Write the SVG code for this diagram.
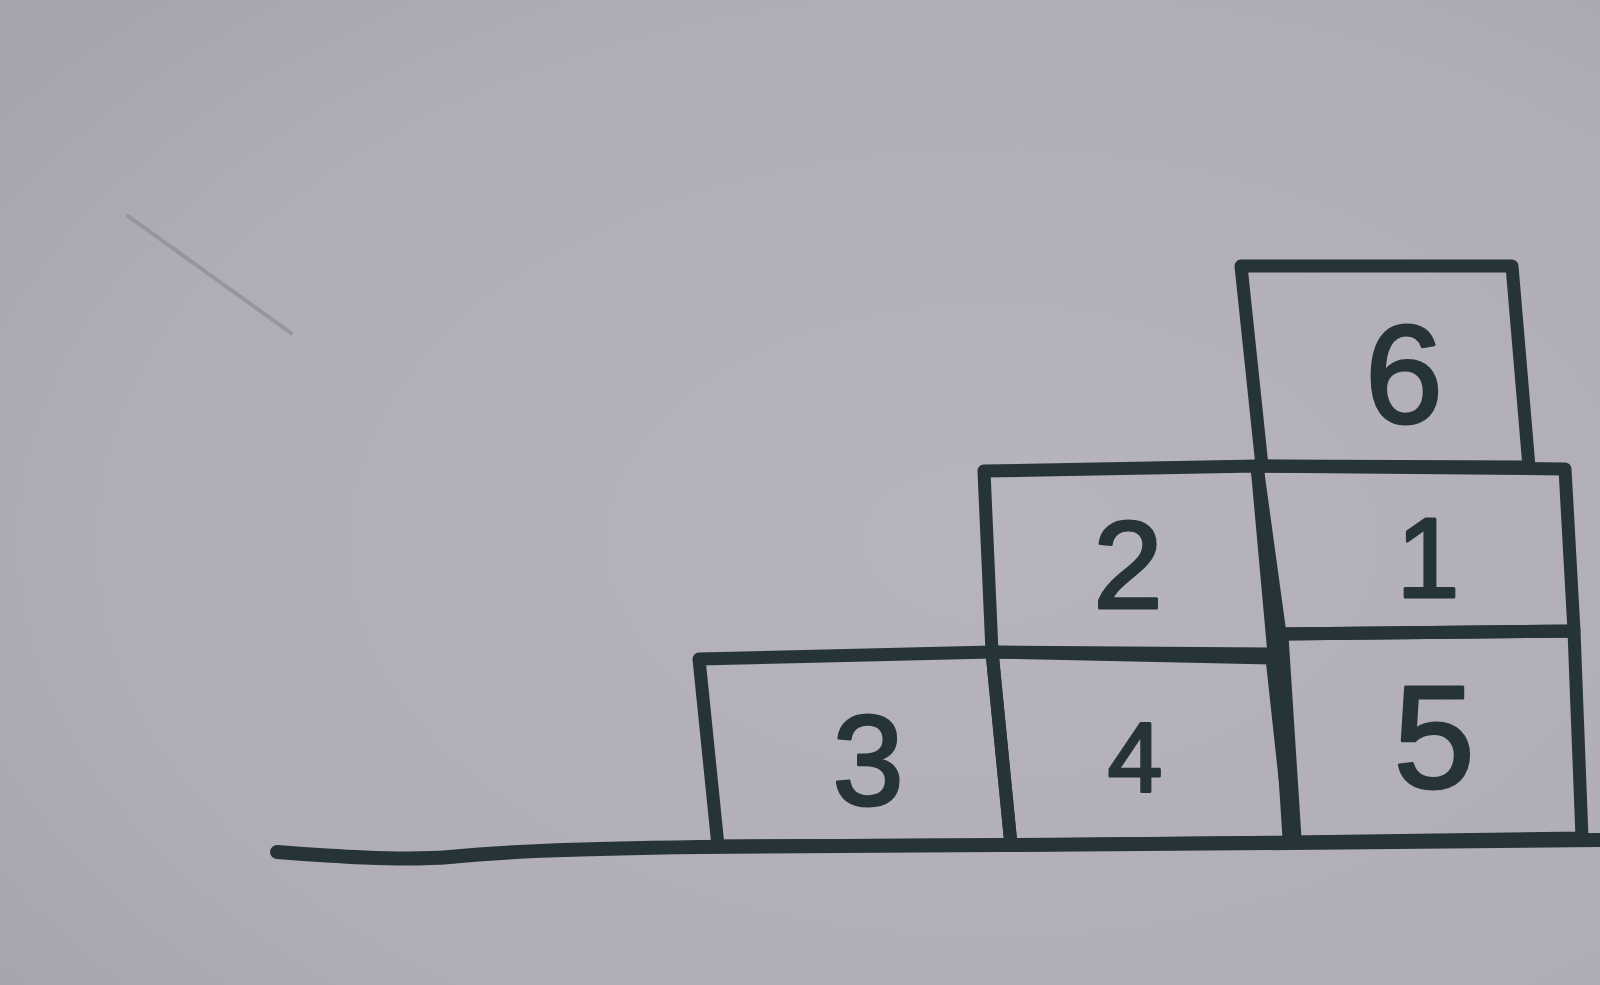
<svg xmlns="http://www.w3.org/2000/svg" width="1600" height="985" viewBox="0 0 1600 985">
  <defs>
    <radialGradient id="paper" cx="0.62" cy="0.55" r="0.8">
      <stop offset="0" stop-color="#b7b4bf"/>
      <stop offset="0.7" stop-color="#b0adb8"/>
      <stop offset="1" stop-color="#a6a3ac"/>
    </radialGradient>
    <style>
      .box { fill: none; stroke: #263437; stroke-width: 13; stroke-linejoin: round; stroke-linecap: round; }
      .thick { fill: none; stroke: #263437; stroke-width: 19; stroke-linecap: round; }
      .num { font-family: "Liberation Sans", "Arial", sans-serif; fill: #263437; stroke: #263437; stroke-width: 3; stroke-linejoin: round; text-anchor: middle; }
      .ground { fill: none; stroke: #263437; stroke-width: 14; stroke-linecap: round; stroke-linejoin: round; }
    </style>
  </defs>
  <rect x="0" y="0" width="1600" height="985" fill="url(#paper)"/>
  <path d="M128 216 L291 333" stroke="#85828b" stroke-width="4" fill="none" opacity="0.55" stroke-linecap="round"/>

  <g id="box-6">
    <path class="box" d="M1241 266 L1512 266 L1529 467 L1262 466 Z"/>
    <text class="num" x="1404" y="423" font-size="140">6</text>
  </g>
  <g id="box-2">
    <path class="box" d="M984 471 L1257 466 L1274 654 L992 652 Z"/>
    <text class="num" x="1128" y="608" font-size="125">2</text>
  </g>
  <g id="box-1">
    <path class="box" d="M1257 466 L1565 469 L1574 631 L1280 634 Z"/>
    <text class="num" x="1428" y="597" font-size="113">1</text>
  </g>
  <g id="box-3">
    <path class="box" d="M699 659 L992 652 L1011 845 L718 846 Z"/>
    <text class="num" x="868" y="805" font-size="128">3</text>
  </g>
  <g id="box-4">
    <path class="box" d="M992 652 L1272 658 L1292 842 L1011 845 Z"/>
    <text class="num" x="1135" y="791" font-size="98">4</text>
  </g>
  <g id="box-5">
    <path class="box" d="M1280 634 L1574 631 L1582 838 L1292 842 Z"/>
    <path class="thick" d="M1279 636 L1292 838"/>
    <text class="num" x="1434" y="788" font-size="146">5</text>
  </g>

  <g id="connectors">
    <path class="ground" d="M277 852 C330 856 400 861 450 857 C500 852 560 849 700 847 L1000 845 L1290 843 L1600 840"/>
  </g>
</svg>
